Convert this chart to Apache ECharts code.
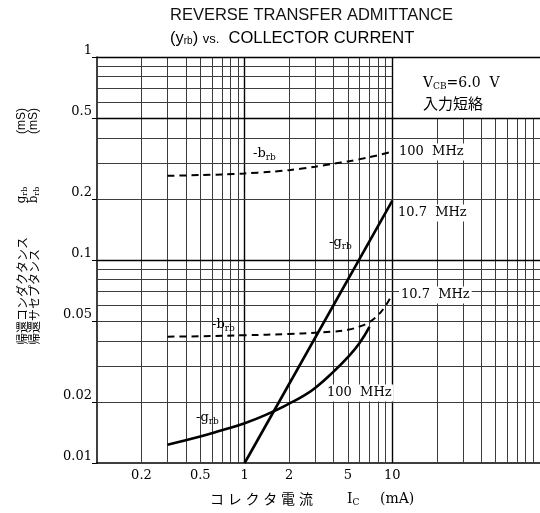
<!DOCTYPE html>
<html><head><meta charset="utf-8">
<script src="https://cdn.jsdelivr.net/npm/echarts@6/dist/echarts.min.js"></script>
<style>html,body{margin:0;padding:0;background:#fff}#c{width:540px;height:513px}</style>
</head><body><div id="c"></div>
<script>
// tick labels
const xTickLabels = [0.2, 0.5, 1, 2, 5, 10];
const yTickLabels = [0.01, 0.02, 0.05, 0.1, 0.2, 0.5, 1];
// grid line values
const xGridValues = [0.2,0.3,0.4,0.5,0.6,0.7,0.8,0.9,1,2,3,4,5,6,7,8,9,10,20,30,40,50,60,70,80,90];
const yGridValues = [0.02,0.03,0.04,0.05,0.06,0.07,0.08,0.09,0.1,0.2,0.3,0.4,0.5,0.6,0.7,0.8,0.9,1];
const xMajor = [1, 10];
const yMajor = [0.1, 0.5, 1];
// -b_rb, 100 MHz (dashed)
const bRb100X = [0.3,0.5,0.7,1,1.5,2,3,4,5,7,10];
const bRb100Y = [0.260,0.262,0.264,0.267,0.272,0.277,0.288,0.298,0.306,0.321,0.342];
// -b_rb, 10.7 MHz (dashed)
const bRb107X = [0.3,0.5,1,2,3,4,5,6,7,8,9,10];
const bRb107Y = [0.0419,0.0421,0.0426,0.0432,0.0438,0.0444,0.0453,0.0470,0.0495,0.0535,0.0595,0.0680];
// -g_rb, 100 MHz (solid)
const gRb100X = [0.3,0.5,0.7,1,1.5,2,2.5,3,4,5,6,7];
const gRb100Y = [0.0123,0.0135,0.0145,0.0157,0.0177,0.0196,0.0214,0.0234,0.0282,0.0332,0.0390,0.0468];
// -g_rb, 10.7 MHz (solid)
const gRb107X = [1, 10];
const gRb107Y = [0.010, 0.196];

const X_MIN = 0.1, X_MAX = 100, Y_MIN = 0.01, Y_MAX = 1;
const BOX_X = 10, BOX_Y = 0.5; // blank box region (x>10, y>0.5)

const zip = (xs, ys) => xs.map((x, i) => [x, ys[i]]);

const minorStyle = {color: '#3c3c3c', width: 1, type: 'solid'};
const majorStyle = {color: '#000', width: 1.4, type: 'solid'};

const gridLines = [];
xGridValues.forEach(v => {
  const top = v > BOX_X ? BOX_Y : Y_MAX;
  const st = xMajor.includes(v) ? majorStyle : minorStyle;
  gridLines.push([{coord: [v, Y_MIN], lineStyle: st}, {coord: [v, top]}]);
});
yGridValues.forEach(v => {
  const right = (v > BOX_Y && v < Y_MAX) ? BOX_X : X_MAX;
  const st = yMajor.includes(v) ? majorStyle : minorStyle;
  gridLines.push([{coord: [X_MIN, v], lineStyle: st}, {coord: [right, v]}]);
});

const serif = 'DejaVu Serif';
const subRich = {
  a: {fontFamily: serif, fontSize: 13, color: '#000'},
  s: {fontFamily: serif, fontSize: 9, color: '#000', padding: [7, 0, 0, 0]}
};
function curveLabel(text, x, y) {
  return {type: 'text', x: x, y: y, z: 50,
    style: {text: text, rich: subRich, align: 'left', verticalAlign: 'middle', fill: '#000'}};
}
function freqLabel(text, x, y) {
  return {type: 'text', x: x, y: y, z: 50,
    style: {text: text, fontFamily: serif, fontSize: 13, fill: '#000', align: 'left', verticalAlign: 'middle',
      backgroundColor: '#fff', padding: [2, 2, 2, 2]}};
}

const chart = echarts.init(document.getElementById('c'));
chart.setOption({
  animation: false,
  backgroundColor: '#fff',
  grid: {left: 97, top: 57, width: 444, height: 406},
  xAxis: {
    type: 'log', logBase: 10, min: X_MIN, max: X_MAX,
    axisLine: {show: true, lineStyle: {color: '#000', width: 1.5}},
    axisTick: {show: false},
    splitLine: {show: false},
    axisLabel: {customValues: xTickLabels, formatter: v => String(+v.toPrecision(3)),
      fontFamily: serif, fontSize: 13, color: '#000', margin: 6}
  },
  yAxis: {
    type: 'log', logBase: 10, min: Y_MIN, max: Y_MAX,
    axisLine: {show: true, lineStyle: {color: '#000', width: 1.5}},
    axisTick: {show: true, customValues: yTickLabels, length: 5, lineStyle: {color: '#000'}},
    splitLine: {show: false},
    axisLabel: {customValues: yTickLabels, formatter: v => String(+v.toPrecision(3)),
      fontFamily: serif, fontSize: 13, color: '#000', margin: 5, verticalAlign: 'bottom'}
  },
  series: [
    {type: 'line', data: [], symbol: 'none', silent: true, z: 1,
     markLine: {silent: true, symbol: ['none', 'none'], label: {show: false}, animation: false, data: gridLines}},
    {name: '-b_rb 100MHz', type: 'line', data: zip(bRb100X, bRb100Y), smooth: 0.3, symbol: 'none', z: 5,
     lineStyle: {color: '#000', width: 2, type: [7, 5]}},
    {name: '-b_rb 10.7MHz', type: 'line', data: zip(bRb107X, bRb107Y), smooth: 0.4, symbol: 'none', z: 5,
     lineStyle: {color: '#000', width: 2, type: [7, 5]}},
    {name: '-g_rb 100MHz', type: 'line', data: zip(gRb100X, gRb100Y), smooth: 0.5, symbol: 'none', z: 5,
     lineStyle: {color: '#000', width: 2.6}},
    {name: '-g_rb 10.7MHz', type: 'line', data: zip(gRb107X, gRb107Y), symbol: 'none', z: 5,
     lineStyle: {color: '#000', width: 2.6}}
  ],
  graphic: [
    {type: 'text', x: 170, y: 15, z: 50, style: {text: 'REVERSE TRANSFER ADMITTANCE', fontFamily: 'Liberation Sans',
      fontSize: 16.5, fill: '#111', align: 'left', verticalAlign: 'middle'}},
    {type: 'text', x: 170, y: 38, z: 50, style: {
      text: '{a|(y}{s|rb}{a|) }{v|vs.}{a|  COLLECTOR CURRENT}',
      rich: {a: {fontFamily: 'Liberation Sans', fontSize: 16.5, color: '#111'},
             s: {fontFamily: 'Liberation Sans', fontSize: 10, color: '#111', padding: [7, 0, 0, 0]},
             v: {fontFamily: 'Liberation Sans', fontSize: 13, color: '#111', padding: [3, 0, 0, 0]}},
      align: 'left', verticalAlign: 'middle'}},
    {type: 'text', x: 423, y: 83, z: 50, style: {
      text: '{a|V}{s|CB}{a|=6.0  V}',
      rich: {a: {fontFamily: serif, fontSize: 14, color: '#000'},
             s: {fontFamily: serif, fontSize: 9, color: '#000', padding: [7, 0, 0, 0]}},
      align: 'left', verticalAlign: 'middle'}},
    {type: 'text', x: 423, y: 103, z: 50, style: {text: '入力短絡', fontFamily: 'Noto Sans CJK JP',
      fontSize: 15, fill: '#000', align: 'left', verticalAlign: 'middle'}},
    curveLabel('{a|-b}{s|rb}', 253, 154),
    freqLabel('100  MHz', 397, 152),
    freqLabel('10.7  MHz', 396, 213),
    curveLabel('{a|-g}{s|rb}', 329, 243),
    freqLabel('10.7  MHz', 399, 295),
    curveLabel('{a|-b}{s|rb}', 212, 325),
    freqLabel('100  MHz', 325, 393),
    curveLabel('{a|-g}{s|rb}', 196, 418),
    // x-axis title
    {type: 'text', x: 208, y: 499, z: 50, style: {
      text: '{j|コ}{j|レ}{j|ク}{j|タ}{j|電}{j|流}',
      rich: {j: {fontFamily: 'Noto Sans CJK JP', fontSize: 14, color: '#000', width: 17.8, align: 'center'}},
      align: 'left', verticalAlign: 'middle'}},
    {type: 'text', x: 347, y: 499, z: 50, style: {
      text: '{a|I}{s|C}',
      rich: {a: {fontFamily: serif, fontSize: 14, color: '#000'},
             s: {fontFamily: serif, fontSize: 9, color: '#000', padding: [7, 0, 0, 0]}},
      align: 'left', verticalAlign: 'middle'}},
    {type: 'text', x: 380, y: 499, z: 50, style: {text: '(mA)', fontFamily: serif, fontSize: 14, fill: '#000',
      align: 'left', verticalAlign: 'middle'}},
    // y-axis title (two rotated columns)
    {type: 'text', x: 22, y: 345, rotation: Math.PI / 2, z: 50, style: {text: '帰還コンダクタンス',
      fontFamily: 'Noto Sans CJK JP', fontSize: 12, fill: '#000', align: 'left', verticalAlign: 'middle'}},
    {type: 'text', x: 34, y: 345, rotation: Math.PI / 2, z: 50, style: {text: '帰還サセプタンス',
      fontFamily: 'Noto Sans CJK JP', fontSize: 12, fill: '#000', align: 'left', verticalAlign: 'middle'}},
    {type: 'text', x: 22, y: 195, rotation: Math.PI / 2, z: 50, style: {text: '{a|g}{s|rb}',
      rich: {a: {fontFamily: serif, fontSize: 12, color: '#000'}, s: {fontFamily: serif, fontSize: 8, color: '#000', padding: [5, 0, 0, 0]}},
      align: 'center', verticalAlign: 'middle'}},
    {type: 'text', x: 34, y: 195, rotation: Math.PI / 2, z: 50, style: {text: '{a|b}{s|rb}',
      rich: {a: {fontFamily: serif, fontSize: 12, color: '#000'}, s: {fontFamily: serif, fontSize: 8, color: '#000', padding: [5, 0, 0, 0]}},
      align: 'center', verticalAlign: 'middle'}},
    {type: 'text', x: 22, y: 121, rotation: Math.PI / 2, z: 50, style: {text: '(mS)',
      fontFamily: 'Liberation Sans', fontSize: 12, fill: '#000', align: 'center', verticalAlign: 'middle'}},
    {type: 'text', x: 34, y: 121, rotation: Math.PI / 2, z: 50, style: {text: '(mS)',
      fontFamily: 'Liberation Sans', fontSize: 12, fill: '#000', align: 'center', verticalAlign: 'middle'}}
  ]
});
</script></body></html>
